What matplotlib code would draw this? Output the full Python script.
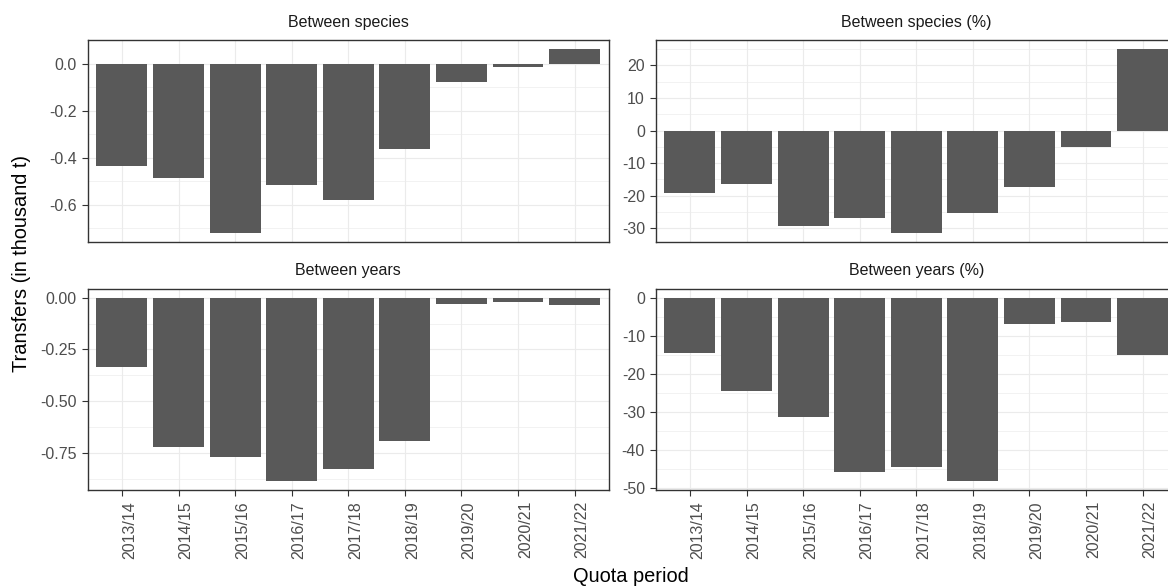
import numpy as np
import matplotlib
matplotlib.use("Agg")
import matplotlib.pyplot as plt

plt.rcParams["font.family"] = ["Liberation Sans", "DejaVu Sans"]
plt.rcParams["axes.unicode_minus"] = False

# Quota periods on the shared x axis
periods = ["2013/14", "2014/15", "2015/16", "2016/17", "2017/18",
           "2018/19", "2019/20", "2020/21", "2021/22"]

# Transfers between species (thousand t and % of quota)
species_kt = [-0.435, -0.485, -0.720, -0.516, -0.579, -0.363, -0.079, -0.014, 0.061]
species_pct = [-19.2, -16.5, -29.2, -26.7, -31.4, -25.3, -17.3, -5.0, 25.0]

# Transfers between years (thousand t and % of quota)
years_kt = [-0.336, -0.719, -0.769, -0.884, -0.827, -0.692, -0.031, -0.019, -0.037]
years_pct = [-14.6, -24.4, -31.2, -45.8, -44.5, -48.0, -7.0, -6.4, -14.9]

panel_titles = ["Between species", "Between species (%)",
                "Between years", "Between years (%)"]
panel_values = [species_kt, species_pct, years_kt, years_pct]
y_breaks = [[0.0, -0.2, -0.4, -0.6],
            [20, 10, 0, -10, -20, -30],
            [0.0, -0.25, -0.50, -0.75],
            [0, -10, -20, -30, -40, -50]]
y_formats = ["{:.1f}", "{:.0f}", "{:.2f}", "{:.0f}"]

W, H = 1168, 586
fig = plt.figure(figsize=(W / 100, H / 100), dpi=100)
fig.patch.set_facecolor("white")

# panel boxes in pixels: (left, top, right, bottom)
col_x = [(88, 608.5), (656, 1176.5)]
row_y = [(40, 242), (288.5, 490)]

BAR = "#595959"
GRID = "#EBEBEB"
FRAME = "#333333"
TICKTXT = "#4D4D4D"

x = np.arange(len(periods))

for i, (title, vals, breaks, fmt) in enumerate(zip(panel_titles, panel_values, y_breaks, y_formats)):
    r, c = divmod(i, 2)
    x0, x1 = col_x[c]
    y0, y1 = row_y[r]
    ax = fig.add_axes([x0 / W, 1 - y1 / H, (x1 - x0) / W, (y1 - y0) / H])
    ax.set_axisbelow(True)

    ax.bar(x, vals, width=0.9, color=BAR, linewidth=0)

    lo = min(min(vals), 0.0)
    hi = max(max(vals), 0.0)
    pad = 0.05 * (hi - lo)
    ax.set_ylim(lo - pad, hi + pad)
    ax.set_xlim(-0.6, len(periods) - 0.4)

    step = abs(breaks[0] - breaks[1])
    minors = sorted(set(np.round(np.concatenate([np.array(breaks) + step / 2,
                                                   np.array(breaks) - step / 2]), 6)) - set(breaks))
    minors = [m for m in minors if lo - pad <= m <= hi + pad]

    ax.set_yticks(breaks)
    ax.set_yticklabels([fmt.format(b) for b in breaks])
    ax.set_yticks(minors, minor=True)
    ax.set_xticks(x)

    ax.grid(True, which="major", color=GRID, linewidth=0.85)
    ax.grid(True, which="minor", axis="y", color=GRID, linewidth=0.45)

    ax.tick_params(axis="y", which="major", length=4.5, width=0.8, color=FRAME,
                   labelsize=11.5, labelcolor=TICKTXT, pad=3.5)
    ax.tick_params(axis="y", which="minor", length=0)
    if r == 1:
        ax.tick_params(axis="x", length=4.5, width=0.8, color=FRAME,
                       labelsize=11.5, labelcolor=TICKTXT, pad=3.5)
        ax.set_xticklabels(periods, rotation=90, ha="left", va="top")
    else:
        ax.tick_params(axis="x", length=0, labelbottom=False)

    for s in ax.spines.values():
        s.set_color(FRAME)
        s.set_linewidth(1.0)

    fig.text(((x0 + x1) / 2) / W, 1 - (y0 - 18) / H, title, ha="center", va="center",
             fontsize=11.5, color="#1A1A1A")

fig.text(631 / W, 1 - 582 / H, "Quota period", ha="center", va="baseline",
         fontsize=14.4, color="black")
fig.text(22 / W, 1 - 263 / H, "Transfers (in thousand t)", ha="center", va="center",
         rotation=90, fontsize=14.4, color="black")

fig.savefig("out.png", dpi=100, facecolor="white")
